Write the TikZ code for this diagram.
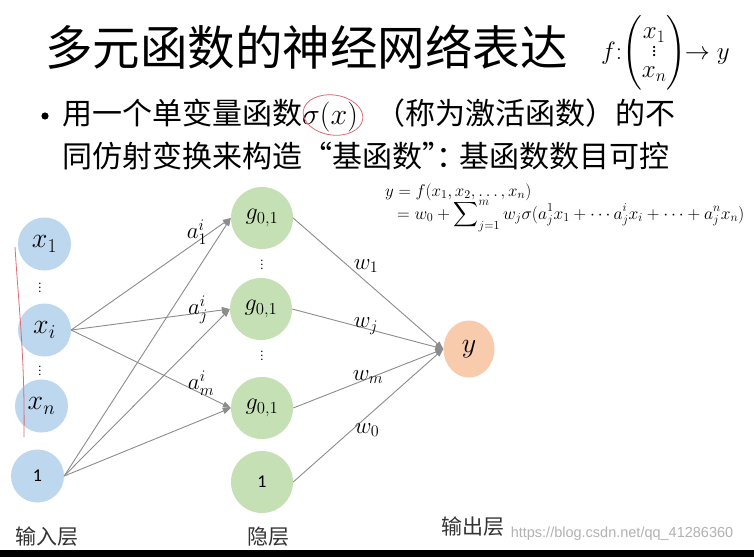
\RequirePackage{fix-cm}
\documentclass[tikz,border=0pt]{standalone}
\usepackage{amsmath}
\usepackage{fontspec}
\setmainfont{Noto Sans CJK SC}
\newfontfamily\cjk{Noto Sans CJK SC}
\newfontfamily\carl{Carlito}
\newfontfamily\wmfont{Liberation Sans}
\usetikzlibrary{arrows.meta,shapes.geometric}
\definecolor{inblue}{HTML}{BDD7EE}
\definecolor{hidgreen}{HTML}{C5E0B4}
\definecolor{outorange}{HTML}{F8CBAD}
\definecolor{arrgray}{HTML}{8C8C8C}
\definecolor{annred}{HTML}{E06A78}
\begin{document}
\begin{tikzpicture}[x=1pt,y=-1pt,
 innode/.style={circle,fill=inblue,minimum size=53pt,inner sep=0pt,font=\fontsize{28}{30}\selectfont},
 hidnode/.style={circle,fill=hidgreen,minimum size=62pt,inner sep=0pt,font=\fontsize{24}{26}\selectfont},
 outnode/.style={ellipse,fill=outorange,minimum width=51pt,minimum height=57pt,inner sep=0pt,font=\fontsize{28}{30}\selectfont},
 conn/.style={draw=arrgray,line width=0.9pt,-{Triangle[length=8pt,width=6pt]}},
 wlabel/.style={font=\fontsize{23}{25}\selectfont,inner sep=0pt},
 vdotsn/.style={font=\fontsize{11}{13}\selectfont,inner sep=0pt},
 layerlabel/.style={font=\cjk\fontsize{21}{23}\selectfont,text=black!80,inner sep=0pt},
 annot/.style={draw=annred,line width=0.8pt}
]
\useasboundingbox (0,0) rectangle (754,557);
\fill[white] (0,0) rectangle (754,557);

% title and mapping
\node[anchor=west,inner sep=0pt,font=\cjk\fontsize{47.5}{50}\selectfont] (title) at (45,47) {多元函数的神经网络表达};
\node[anchor=west,inner sep=0pt,font=\fontsize{25}{27}\selectfont] (map) at (601,53) {$f{:}\!\left(\begin{matrix}x_1\\[-9pt] \text{\fontsize{17}{18}\selectfont$\vdots$}\\[-6pt] x_n\end{matrix}\right)\!\!\to y$};

% bullet text
\fill (45,116) circle (3.6pt);
\node[anchor=west,inner sep=0pt,font=\cjk\fontsize{30}{36}\selectfont] (b1) at (62,115) {用一个单变量函数$\sigma(x)$\kern18pt （称为激活函数）的不};
\node[anchor=west,inner sep=0pt,font=\cjk\fontsize{30}{36}\selectfont] (b2) at (62,156) {同仿射变换来构造“基函数”\kern-16pt：\kern-7pt基函数数目可控};

% formula
\node[anchor=base west,inner sep=0pt,font=\fontsize{17}{19}\selectfont] (f1) at (385,196) {$y=f(x_1,x_2,\dots,x_n)$};
\node[anchor=base west,inner sep=0pt,font=\fontsize{17.5}{19}\selectfont] (f2) at (397,219) {$=w_0+\displaystyle\sum\nolimits_{j=1}^{m} w_j\sigma(a_j^1x_1+\cdots a_j^ix_i+\cdots+a_j^nx_n)$};

% input layer
\node[innode] (x1) at (44.5,244) {$x_1$};
\node[vdotsn] (d1) at (40,285) {$\vdots$};
\node[innode] (xi) at (44.5,330) {$x_i$};
\node[vdotsn] (d2) at (40,368) {$\vdots$};
\node[innode] (xn) at (41.5,406) {$x_n$};
\node[innode,font=\carl\fontsize{18}{20}\selectfont] (b0) at (37.5,476) {1};

% hidden layer
\node[hidnode] (g1) at (262,218) {$g_{0,1}$};
\node[vdotsn] (d3) at (262,262) {$\vdots$};
\node[hidnode] (g2) at (261,309) {$g_{0,1}$};
\node[vdotsn] (d4) at (262,353) {$\vdots$};
\node[hidnode] (g3) at (262,408) {$g_{0,1}$};
\node[hidnode,font=\carl\fontsize{18}{20}\selectfont] (h0) at (262,482) {1};

% output
\node[outnode] (y) at (469,349) {$y$};

% connectors
\draw[conn] (xi.east) -- (g1.west);
\draw[conn] (xi.east) -- (g2.west);
\draw[conn] (xi.east) -- (g3.west);
\draw[conn] (b0.east) -- (g1.west);
\draw[conn] (b0.east) -- (g2.west);
\draw[conn] (b0.east) -- (g3.west);
\draw[conn] (g1.east) -- (y.west);
\draw[conn] (g2.east) -- (y.west);
\draw[conn] (g3.east) -- (y.west);
\draw[conn] (h0.east) -- (y.west);

% weight labels
\node[wlabel] (la1) at (197,232) {$a_1^i$};
\node[wlabel] (laj) at (198,310) {$a_j^i$};
\node[wlabel] (lam) at (201,383) {$a_m^i$};
\node[wlabel] (lw1) at (366,266) {$w_1$};
\node[wlabel] (lwj) at (366,326) {$w_j$};
\node[wlabel] (lwm) at (368,377) {$w_m$};
\node[wlabel] (lw0) at (367,430) {$w_0$};

% layer labels
\node[layerlabel] (lin) at (47,537) {输入层};
\node[layerlabel] (lhid) at (268,537) {隐层};
\node[layerlabel] (lout) at (473,527) {输出层};

% watermark and bottom bar
\node[inner sep=0pt,font=\wmfont\fontsize{14.5}{16}\selectfont,text=black!30] (wm) at (622,534) {https://blog.csdn.net/qq\_41286360};
\fill[black] (0,550) rectangle (754,557);

% hand annotations
\draw[annot,rotate around={-8:(333,115)}] (333,115) ellipse [x radius=30pt,y radius=20pt];
\draw[annot] (15,247) .. controls (19,310) and (25,360) .. (24,437);
\end{tikzpicture}
\end{document}
